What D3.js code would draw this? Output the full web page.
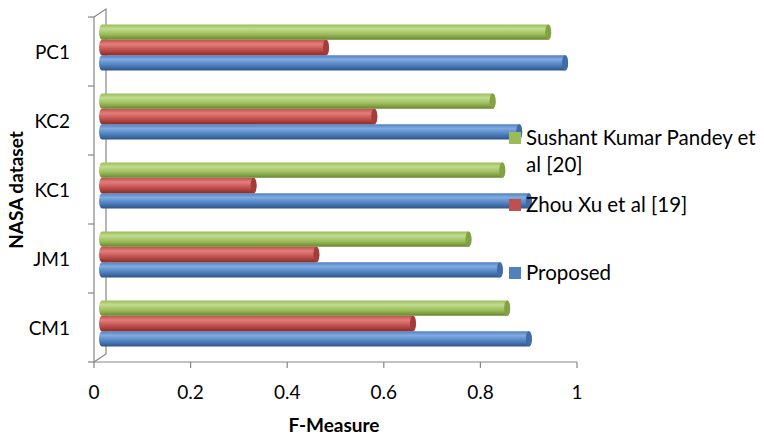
<!DOCTYPE html>
<html>
<head>
<meta charset="utf-8">
<script src="https://cdn.jsdelivr.net/npm/d3@7"></script>
<style>
  body { margin: 0; background: #fff; }
  svg { display: block; font-family: Lato, "Open Sans", sans-serif; }
</style>
</head>
<body>
<svg id="chart" width="764" height="435"></svg>
<script>
const categories = ["CM1", "JM1", "KC1", "KC2", "PC1"];
const proposed = [0.89, 0.83, 0.89, 0.87, 0.965];
const zhou = [0.65, 0.45, 0.32, 0.57, 0.47];
const sushant = [0.845, 0.765, 0.835, 0.815, 0.93];
const xTicks = [0, 0.2, 0.4, 0.6, 0.8, 1];

const series = [
    { name: "Proposed", values: proposed, base: "#4f81bd", light: "#80aae2", dark: "#2d5489", cap: "#3f6ca6" },
    { name: "Zhou Xu et al [19]", values: zhou, base: "#c0504d", light: "#e27e7b", dark: "#8a2e2b", cap: "#a53c39" },
    { name: "Sushant Kumar Pandey et al [20]", values: sushant, base: "#9bbb59", light: "#c0dc8f", dark: "#67852f", cap: "#82a244" }
];
const legendLines = [["Proposed"], ["Zhou Xu et al [19]"], ["Sushant Kumar Pandey et", "al [20]"]];

const svg = d3.select("#chart");
const axisColor = "#868686";

// plot area (front plane) and 3D depth
const plotLeft = 94, plotRight = 577, plotTop = 17, plotBottom = 362;
const depthX = 12, depthY = -8;

const x = d3.scaleLinear().domain([0, 1]).range([plotLeft, plotRight]);
const y = d3.scaleBand().domain(categories.slice().reverse()).range([plotTop, plotBottom]);
const ySeries = d3.scaleBand()
    .domain(series.map(s => s.name).reverse())
    .range([0, y.bandwidth()])
    .paddingInner(0)
    .paddingOuter(0.75);

// gradients for cylinders
const defs = svg.append("defs");
series.forEach((s, i) => {
    const g = defs.append("linearGradient")
        .attr("id", "grad" + i)
        .attr("x1", 0).attr("y1", 0).attr("x2", 0).attr("y2", 1);
    g.append("stop").attr("offset", "0%").attr("stop-color", s.base);
    g.append("stop").attr("offset", "28%").attr("stop-color", s.light);
    g.append("stop").attr("offset", "65%").attr("stop-color", s.base);
    g.append("stop").attr("offset", "100%").attr("stop-color", s.dark);
});

// walls / axes
const axes = svg.append("g")
    .attr("stroke", axisColor)
    .attr("stroke-width", 1.2)
    .attr("fill", "none");

axes.append("path")
    .attr("d", `M${plotLeft},${plotTop}L${plotLeft + depthX},${plotTop + depthY}L${plotLeft + depthX},${plotBottom + depthY}L${plotLeft},${plotBottom}`);
axes.append("line")
    .attr("x1", plotLeft).attr("x2", plotLeft)
    .attr("y1", plotTop).attr("y2", plotBottom);
axes.append("line")
    .attr("x1", plotLeft).attr("x2", plotRight)
    .attr("y1", plotBottom).attr("y2", plotBottom);

// category ticks
const bounds = y.domain().map(c => y(c)).concat([plotBottom]);
axes.selectAll(".ytick")
    .data(bounds)
    .enter()
    .append("line")
    .attr("x1", plotLeft - 6).attr("x2", plotLeft)
    .attr("y1", d => d).attr("y2", d => d);

axes.selectAll(".xtick")
    .data(xTicks)
    .enter()
    .append("line")
    .attr("x1", d => x(d)).attr("x2", d => x(d))
    .attr("y1", plotBottom).attr("y2", plotBottom + 6);

// bars as cylinders
const bx = depthX / 2 - 1, by = depthY / 2;
const capRx = 3;

series.forEach((s, i) => {
    const g = svg.append("g");
    categories.forEach((c, j) => {
        const v = s.values[j];
        const y0 = y(c) + ySeries(s.name) + by;
        const h = ySeries.bandwidth();
        const ry = h / 2;
        const x0 = x(0) + bx;
        const x1 = x(v) + bx;
        g.append("path")
            .attr("d", `M${x0 + capRx},${y0}L${x1},${y0}A${capRx},${ry} 0 0 1 ${x1},${y0 + h}L${x0 + capRx},${y0 + h}A${capRx},${ry} 0 0 1 ${x0 + capRx},${y0}Z`)
            .attr("fill", `url(#grad${i})`);
        g.append("ellipse")
            .attr("cx", x1).attr("cy", y0 + ry)
            .attr("rx", capRx).attr("ry", ry)
            .attr("fill", s.cap);
    });
});

// tick labels
svg.selectAll(".xlabel")
    .data(xTicks)
    .enter()
    .append("text")
    .attr("x", d => x(d))
    .attr("y", 399)
    .attr("text-anchor", "middle")
    .attr("font-size", 19)
    .attr("fill", "#000")
    .text(d => d);

svg.selectAll(".ylabel")
    .data(categories)
    .enter()
    .append("text")
    .attr("x", 70)
    .attr("y", d => y(d) + y.bandwidth() / 2 + 7)
    .attr("text-anchor", "end")
    .attr("font-size", 19)
    .attr("fill", "#000")
    .text(d => d);

// axis titles
svg.append("text")
    .attr("x", 334)
    .attr("y", 432)
    .attr("text-anchor", "middle")
    .attr("font-size", 19)
    .attr("font-weight", "bold")
    .text("F-Measure");

svg.append("text")
    .attr("transform", "translate(23,190) rotate(-90)")
    .attr("text-anchor", "middle")
    .attr("font-size", 19)
    .attr("font-weight", "bold")
    .text("NASA dataset");

// legend
const legendY = [280, 212, 145];
const legend = svg.append("g");
series.forEach((s, i) => {
    legend.append("rect")
        .attr("x", 509).attr("y", legendY[i] - 13)
        .attr("width", 12).attr("height", 12)
        .attr("fill", s.base);
    legendLines[i].forEach((line, k) => {
        legend.append("text")
            .attr("x", 526)
            .attr("y", legendY[i] + k * 27)
            .attr("font-size", 20.5)
            .attr("fill", "#000")
            .text(line);
    });
});
</script>
</body>
</html>
